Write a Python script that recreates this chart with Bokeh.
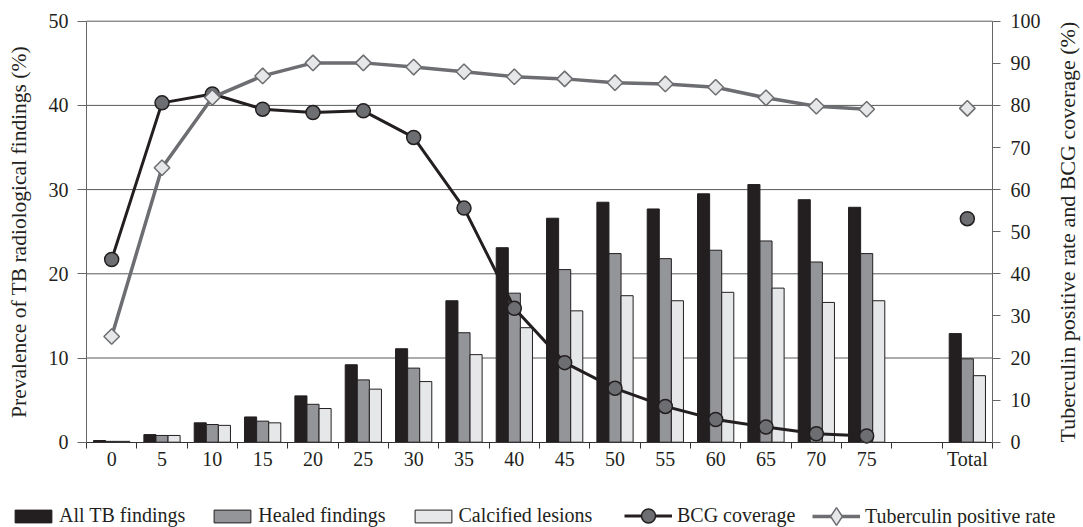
import math
from bokeh.plotting import figure
from bokeh.models import (ColumnDataSource, Range1d, LinearAxis, FixedTicker,
                          Legend, LegendItem)
from bokeh.transform import dodge
from bokeh.embed import file_html
from bokeh.resources import INLINE

# ---------------- data ----------------
age_groups = ["0", "5", "10", "15", "20", "25", "30", "35", "40", "45",
              "50", "55", "60", "65", "70", "75"]
categories = age_groups + ["", "Total"]

all_tb = [0.2, 0.9, 2.3, 3.0, 5.5, 9.2, 11.1, 16.8, 23.1, 26.6,
          28.5, 27.7, 29.5, 30.6, 28.8, 27.9]
healed = [0.1, 0.8, 2.1, 2.5, 4.5, 7.4, 8.8, 13.0, 17.7, 20.5,
          22.4, 21.8, 22.8, 23.9, 21.4, 22.4]
calcified = [0.1, 0.8, 2.0, 2.3, 4.0, 6.3, 7.2, 10.4, 13.6, 15.6,
             17.4, 16.8, 17.8, 18.3, 16.6, 16.8]
total_all_tb = 12.9
total_healed = 9.9
total_calcified = 7.9

bcg = [43.4, 80.6, 82.7, 79.1, 78.3, 78.7, 72.4, 55.6, 31.8, 18.9,
       12.8, 8.5, 5.4, 3.6, 2.0, 1.5]
tuberculin = [25.1, 65.2, 81.9, 87.0, 90.1, 90.1, 89.1, 88.0, 86.8, 86.3,
              85.4, 85.1, 84.3, 81.8, 79.8, 79.1]
total_bcg = 53.1
total_tuberculin = 79.3

left_ticks = [0, 10, 20, 30, 40, 50]
right_ticks = [0, 10, 20, 30, 40, 50, 60, 70, 80, 90, 100]

# ---------------- layout constants (canvas pixels) ----------------
W, H = 1083, 527
PL, PR, PT, PB = 86, 992, 20.7, 441.7      # plotting area edges
LEFT_MAX, RIGHT_MAX = 50, 100

# ---------------- styling ----------------
FONT = "Liberation Serif"
TXT = "#231f20"
C_BLACK = "#231f20"
C_GRAY = "#939598"
C_LIGHT = "#e6e7e8"
C_DARK = "#6d6e71"

n_cat = len(categories)
pos = {c: i + 0.5 for i, c in enumerate(categories)}

# ranges chosen so the whole canvas is the frame; the chart occupies PL..PR, PT..PB
xs = (PR - PL) / n_cat
ys = (PB - PT) / LEFT_MAX
x_range = Range1d(-PL / xs, n_cat + (W - PR) / xs)
y_lo, y_hi = -(H - PB) / ys, LEFT_MAX + PT / ys
y_range = Range1d(y_lo, y_hi)
k = RIGHT_MAX / LEFT_MAX

p = figure(width=W, height=H, output_backend="svg", toolbar_location=None,
           x_range=x_range, y_range=y_range,
           x_axis_type=None, y_axis_type=None,
           min_border_left=0, min_border_right=0, min_border_top=0,
           min_border_bottom=0)
p.extra_y_ranges = {"pct": Range1d(y_lo * k, y_hi * k)}
p.outline_line_color = None
p.background_fill_color = "white"
p.border_fill_color = "white"

# horizontal grid lines (only across the plotting area)
grid_src = ColumnDataSource(dict(y=left_ticks[1:]))
p.segment(x0=0, x1=n_cat, y0="y", y1="y", source=grid_src,
          line_color="#58595b", line_width=1)

# bars
bar_cats = age_groups + ["Total"]
bar_src = ColumnDataSource(dict(
    x=[pos[c] for c in bar_cats],
    all_tb=all_tb + [total_all_tb],
    healed=healed + [total_healed],
    calcified=calcified + [total_calcified],
))
bw = 0.24
r_all = p.vbar(x=dodge("x", -bw), top="all_tb", width=bw, source=bar_src,
               fill_color=C_BLACK, line_color=C_BLACK, line_width=1)
r_healed = p.vbar(x=dodge("x", 0), top="healed", width=bw, source=bar_src,
                  fill_color=C_GRAY, line_color=C_BLACK, line_width=1)
r_calc = p.vbar(x=dodge("x", bw), top="calcified", width=bw, source=bar_src,
                fill_color=C_LIGHT, line_color=C_BLACK, line_width=1)

# lines
line_src = ColumnDataSource(dict(x=[pos[c] for c in age_groups], bcg=bcg, tub=tuberculin))
tot_src = ColumnDataSource(dict(x=[pos["Total"]], bcg=[total_bcg], tub=[total_tuberculin]))

bcg_pt_style = dict(marker="circle", size=14, fill_color=C_DARK,
                    line_color=C_BLACK, line_width=1.5)
tub_pt_style = dict(marker="square", angle=math.pi / 4, size=11,
                    fill_color=C_LIGHT, line_color=C_DARK, line_width=1.5)

r_bcg_l = p.line("x", "bcg", source=line_src, y_range_name="pct",
                 line_color=C_BLACK, line_width=3)
r_bcg_p = p.scatter("x", "bcg", source=line_src, y_range_name="pct", **bcg_pt_style)
p.scatter("x", "bcg", source=tot_src, y_range_name="pct", **bcg_pt_style)

r_tub_l = p.line("x", "tub", source=line_src, y_range_name="pct",
                 line_color=C_DARK, line_width=3.5)
# diamond glyph used for the legend swatch (sits fully under the rotated squares)
r_tub_leg = p.scatter("x", "tub", source=line_src, y_range_name="pct",
                      marker="diamond", size=14, fill_color=C_LIGHT,
                      line_color=C_DARK, line_width=1.5)
p.scatter("x", "tub", source=line_src, y_range_name="pct", **tub_pt_style)
p.scatter("x", "tub", source=tot_src, y_range_name="pct", **tub_pt_style)

# axes
def style_axis(ax, label_size="21.5px"):
    ax.major_label_text_font = FONT
    ax.major_label_text_font_size = "20px"
    ax.major_label_text_color = TXT
    ax.axis_label_text_font = FONT
    ax.axis_label_text_font_size = label_size
    ax.axis_label_text_font_style = "normal"
    ax.axis_label_text_color = TXT
    ax.major_tick_in = 0
    ax.minor_tick_in = 0

left = LinearAxis(ticker=FixedTicker(ticks=left_ticks), bounds=(0, LEFT_MAX),
                  fixed_location=0,
                  axis_label="Prevalence of TB radiological findings (%)")
style_axis(left)
left.axis_line_color = "#666666"
left.major_tick_line_color = "#666666"
left.major_tick_out = 9
left.major_label_standoff = 9
left.axis_label_standoff = 15
p.add_layout(left, "left")

right = LinearAxis(y_range_name="pct", ticker=FixedTicker(ticks=right_ticks),
                   bounds=(0, RIGHT_MAX), fixed_location=n_cat,
                   axis_label="Tuberculin positive rate and BCG coverage (%)")
style_axis(right, "22px")
right.axis_line_color = "#666666"
right.major_tick_line_color = "#666666"
right.major_tick_out = 8
right.major_label_standoff = 10
right.axis_label_standoff = 24
try:
    right.axis_label_orientation = math.pi / 2
except Exception:
    pass
try:
    right.axis_label_align = "start"
except Exception:
    pass
p.add_layout(right, "right")

centers = [pos[c] for c in categories]
boundaries = list(range(0, n_cat + 1))
bottom = LinearAxis(ticker=FixedTicker(ticks=centers, minor_ticks=boundaries),
                    bounds=(0, n_cat), fixed_location=0,
                    major_label_overrides={pos[c]: c for c in categories})
style_axis(bottom)
bottom.axis_line_color = "#333333"
bottom.major_tick_out = 0
bottom.major_tick_line_color = None
bottom.minor_tick_out = 6
bottom.minor_tick_line_color = "#333333"
bottom.major_label_standoff = 0
p.add_layout(bottom, "below")

# legends
leg_common = dict(orientation="horizontal", label_text_font=FONT,
                  label_text_font_size="20px", label_text_color=TXT,
                  padding=0, margin=0, border_line_alpha=0,
                  background_fill_alpha=0)
leg1 = Legend(items=[LegendItem(label="All TB findings", renderers=[r_all]),
                     LegendItem(label="Healed findings", renderers=[r_healed]),
                     LegendItem(label="Calcified lesions", renderers=[r_calc])],
              location=(10, 0), glyph_width=46, glyph_height=16,
              label_standoff=3, spacing=24, **leg_common)
leg2 = Legend(items=[LegendItem(label="BCG coverage", renderers=[r_bcg_l, r_bcg_p])],
              location=(624, -6), glyph_width=48, glyph_height=35,
              label_standoff=5, spacing=17, **leg_common)
leg3 = Legend(items=[LegendItem(label="Tuberculin positive rate", renderers=[r_tub_l, r_tub_leg])],
              location=(812, -11), glyph_width=48, glyph_height=44,
              label_standoff=5, spacing=17, **leg_common)
p.add_layout(leg1)
p.add_layout(leg2)
p.add_layout(leg3)

open("out.html", "w").write(file_html(p, INLINE))
